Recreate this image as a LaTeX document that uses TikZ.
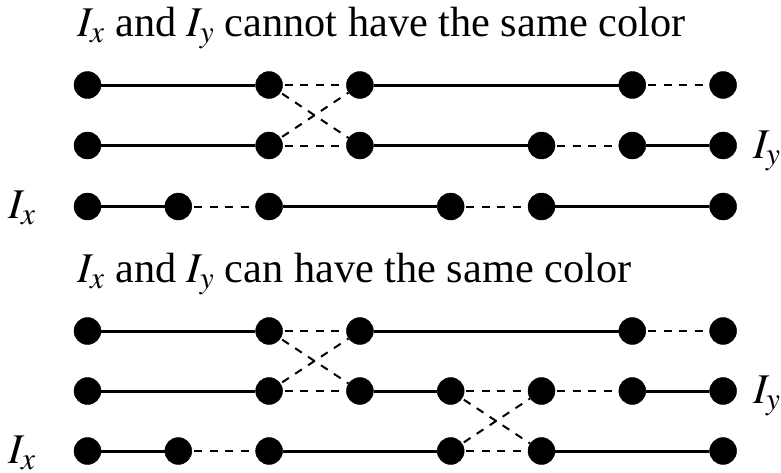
\documentclass[tikz,border=0pt]{standalone}
\usepackage{mathptmx}
\usepackage{fontspec}
\setmainfont{Liberation Serif}

\begin{document}
\begin{tikzpicture}[x=1pt, y=-1pt]
  \tikzset{
    pt/.style={fill=black, draw=black, circle, minimum size=27pt, inner sep=0pt},
    full/.style={line width=3pt},
    gap/.style={line width=2pt, dash pattern=on 8pt off 7.5pt, dash phase=-2pt},
    lbl/.style={anchor=base west, inner sep=0pt, font=\fontsize{42.3}{46}\selectfont},
  }

  \useasboundingbox (0,0) rectangle (781,472);

  % titles and labels
  \node[lbl] (titletop) at (77,36.5) {$I_x$ and $I_y$ cannot have the same color};
  \node[lbl] (titlebot) at (77,282) {$I_x$ and $I_y$ can have the same color};
  \node[lbl] (ixtop) at (8,218) {$I_x$};
  \node[lbl] (iytop) at (753,158) {$I_y$};
  \node[lbl] (ixbot) at (8,463) {$I_x$};
  \node[lbl] (iybot) at (753,403) {$I_y$};

  % dots, one row at a time
  \foreach \c in {0,2,3,6,7}
    \node[pt] (t1\c) at ({87.5+90.8*\c},85) {};
  \foreach \c in {0,2,3,5,6,7}
    \node[pt] (t2\c) at ({87.5+90.8*\c},145.5) {};
  \foreach \c in {0,1,2,4,5,7}
    \node[pt] (t3\c) at ({87.5+90.8*\c},206.5) {};
  \foreach \c in {0,2,3,6,7}
    \node[pt] (b1\c) at ({87.5+90.8*\c},331) {};
  \foreach \c in {0,2,3,4,5,6,7}
    \node[pt] (b2\c) at ({87.5+90.8*\c},391) {};
  \foreach \c in {0,1,2,4,5,7}
    \node[pt] (b3\c) at ({87.5+90.8*\c},451) {};

  % solid intervals
  \foreach \u/\v in {
    t10/t12, t13/t16, t20/t22, t23/t25, t26/t27, t30/t31, t32/t34, t35/t37,
    b10/b12, b13/b16, b20/b22, b23/b24, b26/b27, b30/b31, b32/b34, b35/b37%
  }{
    \draw[full] (\u) -- (\v);
  }

  % dashed links
  \foreach \u/\v in {
    t12/t13, t16/t17, t22/t23, t25/t26, t12/t23, t22/t13, t31/t32, t34/t35,
    b12/b13, b16/b17, b22/b23, b12/b23, b22/b13, b24/b25, b25/b26,
    b31/b32, b34/b35, b24/b35, b34/b25%
  }{
    \draw[gap] (\u) -- (\v);
  }
\end{tikzpicture}
\end{document}
